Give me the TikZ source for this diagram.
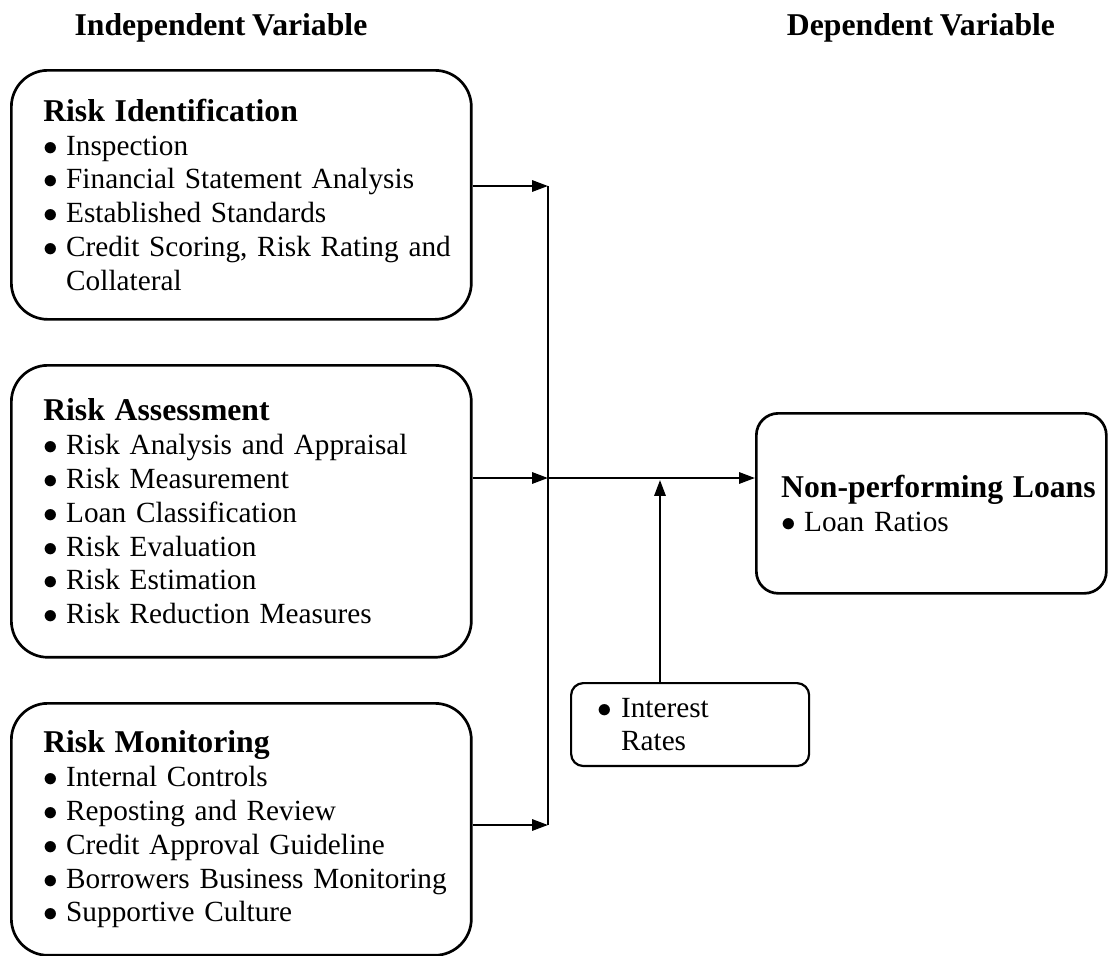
\documentclass[tikz,border=0pt]{standalone}
\usepackage{fontspec}
\setmainfont{Liberation Serif}[WordSpace=0.85]
\usepackage{tikz}
\usetikzlibrary{arrows.meta, positioning, calc}

\hyphenpenalty=10000
\newcommand{\bitem}[1]{\hspace*{6.8pt}\makebox[9.4pt][l]{$\bullet$}#1}
\newcommand{\btitle}[1]{\hspace*{6.8pt}{\fontsize{13}{13.9}\selectfont\bfseries #1}}

\tikzset{
    varbox/.style={draw, line width=1.1pt, rounded corners=15pt, align=left,
        font=\fontsize{12}{13.9}\selectfont,
        inner xsep=6.3pt, anchor=north west},
    flow/.style={line width=0.9pt, -{Triangle[length=6.5pt, width=4.6pt]}},
    bus/.style={line width=0.6pt},
    heading/.style={font=\fontsize{13}{15}\selectfont\bfseries}
}

\begin{document}
\begin{tikzpicture}[x=0.41pt, y=-0.41pt]
        \useasboundingbox (0,0) rectangle (1108,956);

        % Headings
        \node[heading] (indep) at (221,28) {Independent Variable};
        \node[heading] (dep) at (921,28) {Dependent Variable};

        % Independent variable boxes
        \node[varbox, minimum width=188.6pt, minimum height=102.1pt, text width=176pt] (ident) at (10,69) {%
            \btitle{Risk Identification}\\
            \bitem{Inspection}\\
            \bitem{Financial Statement Analysis}\\
            \bitem{Established Standards}\\
            \bitem{Credit Scoring, Risk Rating and}\\
            \hspace*{16.2pt}Collateral};

        \node[varbox, minimum width=188.6pt, minimum height=119.7pt, text width=176pt] (assess) at (10,364) {%
            \btitle{Risk Assessment}\\
            \bitem{Risk Analysis and Appraisal}\\
            \bitem{Risk Measurement}\\
            \bitem{Loan Classification}\\
            \bitem{Risk Evaluation}\\
            \bitem{Risk Estimation}\\
            \bitem{Risk Reduction Measures}};

        \node[varbox, minimum width=188.6pt, minimum height=103.3pt, text width=176pt] (monit) at (10,702) {%
            \btitle{Risk Monitoring}\\
            \bitem{Internal Controls}\\
            \bitem{Reposting and Review}\\
            \bitem{Credit Approval Guideline}\\
            \bitem{Borrowers Business Monitoring}\\
            \bitem{Supportive Culture}};

        % Dependent variable
        \node[varbox, rounded corners=9pt, inner xsep=2pt, minimum width=143.5pt, minimum height=73.8pt, text width=139.5pt] (npl) at (755,412) {%
            \hspace*{8.2pt}{\fontsize{13}{13.9}\selectfont\bfseries Non-performing Loans}\\
            \hspace*{8.2pt}\makebox[9.4pt][l]{$\bullet$}Loan Ratios};

        % Moderating factor
        \node[varbox, rounded corners=5pt, line width=0.9pt, inner xsep=4pt, minimum width=97.6pt, minimum height=34pt, text width=89.6pt] (rate) at (570,682) {%
            \hspace*{7pt}\makebox[9.5pt][l]{$\bullet$}Interest\\
            \hspace*{16.5pt}Rates};

        % Connectors
        \coordinate (top) at (548,186);
        \coordinate (mid) at (548,478);
        \coordinate (bot) at (548,825);
        \coordinate (tap) at (660,480);

        \draw[bus] (top) -- (bot);
        \draw[flow] (top -| ident.east) -- (top);
        \draw[flow] (mid -| assess.east) -- (mid);
        \draw[flow] (bot -| monit.east) -- (bot);
        \draw[flow] (mid) -- (mid -| npl.west);
        \draw[flow] (tap |- rate.north) -- (tap);
    \end{tikzpicture}
\end{document}
